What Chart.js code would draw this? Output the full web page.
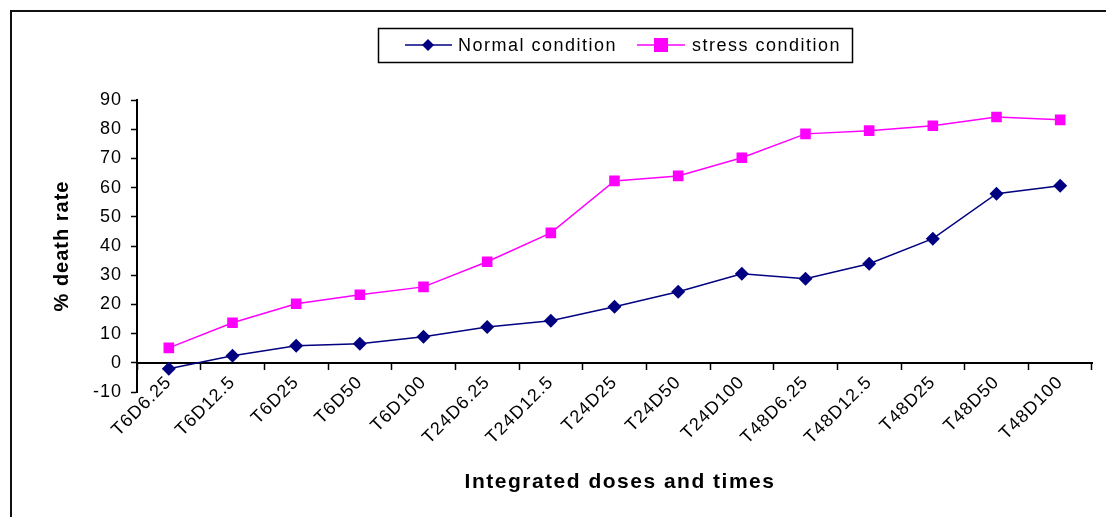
<!DOCTYPE html>
<html>
<head>
<meta charset="utf-8">
<script src="https://cdn.jsdelivr.net/npm/chart.js@4/dist/chart.umd.min.js"></script>
<style>
  body { margin: 0; background: #fff; }
  #wrap { width: 1106px; height: 517px; position: relative; }
</style>
</head>
<body>
<div id="wrap"><canvas id="deathChart" width="1106" height="517"></canvas></div>
<script>
const labels = ["T6D6.25", "T6D12.5", "T6D25", "T6D50", "T6D100",
    "T24D6.25", "T24D12.5", "T24D25", "T24D50", "T24D100",
    "T48D6.25", "T48D12.5", "T48D25", "T48D50", "T48D100"];
const normalValues = [-2, 2.4, 5.8, 6.5, 8.9, 12.3, 14.4, 19.2, 24.3, 30.5, 28.8, 33.9, 42.5, 57.9, 60.6];
const stressValues = [5.1, 13.7, 20.2, 23.3, 26, 34.6, 44.5, 62.3, 64, 70.2, 78.4, 79.5, 81.2, 84.2, 83.2];
const yTicks = [-10, 0, 10, 20, 30, 40, 50, 60, 70, 80, 90];

const NAVY = "#000080";
const PINK = "#FF00FF";
const FONT = "'Liberation Sans', Arial, sans-serif";

// the original text is a bit wider than Arial, add some spacing
const spacing = {
    id: "spacing",
    beforeInit(chart) { chart.ctx.letterSpacing = "1px"; },
    beforeUpdate(chart) { chart.ctx.letterSpacing = "1px"; },
    beforeDraw(chart) { chart.ctx.letterSpacing = "1px"; }
};

// frame, legend box and x title drawn on the canvas
const extras = {
    id: "extras",
    afterDraw(chart) {
        const c = chart.ctx;
        c.save();
        c.strokeStyle = "#111";
        c.lineWidth = 2;
        c.beginPath();
        c.moveTo(11, 517);
        c.lineTo(11, 11);
        c.lineTo(1106, 11);
        c.stroke();

        // legend
        c.lineWidth = 1.5;
        c.strokeStyle = "#000";
        c.strokeRect(378.5, 28.5, 474, 34);
        c.font = "18px " + FONT;
        c.letterSpacing = "1.5px";
        c.textBaseline = "middle";
        c.fillStyle = "#000";

        c.strokeStyle = NAVY;
        c.beginPath(); c.moveTo(405, 45); c.lineTo(452, 45); c.stroke();
        c.fillStyle = NAVY;
        c.beginPath();
        c.moveTo(428, 39); c.lineTo(434, 45); c.lineTo(428, 51); c.lineTo(422, 45);
        c.closePath(); c.fill();
        c.fillStyle = "#000";
        c.fillText("Normal condition", 458, 46);

        c.strokeStyle = PINK;
        c.beginPath(); c.moveTo(637, 45); c.lineTo(685, 45); c.stroke();
        c.fillStyle = PINK;
        c.fillRect(654, 38, 14, 14);
        c.fillStyle = "#000";
        c.fillText("stress condition", 692, 46);

        // x axis title
        c.font = "bold 21px " + FONT;
        c.letterSpacing = "1.5px";
        c.textAlign = "center";
        c.fillText("Integrated doses and times", 620, 482);
        c.restore();
    }
};

const ctx = document.getElementById("deathChart").getContext("2d");
const deathChart = new Chart(ctx, {
    type: "line",
    data: {
        labels: labels,
        datasets: [{
            label: "Normal condition",
            data: normalValues,
            borderColor: NAVY,
            backgroundColor: NAVY,
            borderWidth: 1.5,
            pointStyle: "rectRot",
            pointRadius: 7,
            pointBorderWidth: 0,
            tension: 0
        }, {
            label: "stress condition",
            data: stressValues,
            borderColor: PINK,
            backgroundColor: PINK,
            borderWidth: 1.5,
            pointStyle: "rect",
            pointRadius: 7.5,
            pointBorderWidth: 0,
            tension: 0
        }]
    },
    options: {
        responsive: false,
        animation: false,
        layout: { padding: { left: 40, top: 100, right: 14, bottom: 125 } },
        plugins: {
            legend: { display: false },
            tooltip: { enabled: false }
        },
        scales: {
            x: {
                position: { y: 0 },
                offset: true,
                grid: { display: true, drawOnChartArea: false, offset: true, color: "#000", tickLength: 6, tickWidth: 1.5 },
                border: { display: true, color: "#000", width: 2 },
                ticks: {
                    color: "#000",
                    font: { family: FONT, size: 18 },
                    minRotation: 45,
                    maxRotation: 45,
                    autoSkip: false,
                    padding: 3
                }
            },
            y: {
                min: -10,
                max: 90,
                afterBuildTicks(scale) {
                    scale.ticks = yTicks.map(v => ({ value: v }));
                },
                afterFit(scale) { scale.width = 97; },
                grid: { display: true, drawOnChartArea: false, color: "#000", tickLength: 6, tickWidth: 1.5 },
                border: { display: true, color: "#000", width: 2 },
                ticks: {
                    color: "#000",
                    font: { family: FONT, size: 18 },
                    padding: 9
                },
                title: {
                    display: true,
                    text: "% death rate",
                    color: "#000",
                    font: { family: FONT, size: 20, weight: "bold" },
                    padding: { top: 10, bottom: 0 }
                }
            }
        }
    },
    plugins: [spacing, extras]
});
</script>
</body>
</html>
